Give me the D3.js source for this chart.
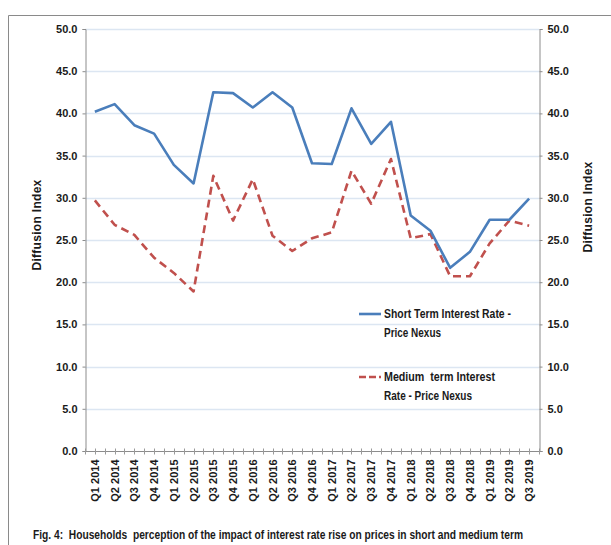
<!DOCTYPE html>
<html><head><meta charset="utf-8">
<script src="https://cdn.jsdelivr.net/npm/d3@7"></script>
<style>
html,body{margin:0;padding:0;background:#fff;}
svg text{font-family:"Liberation Sans Narrow","Arial Narrow","Liberation Sans",Arial,sans-serif;font-weight:bold;fill:#1a1a1a;}
</style></head>
<body><svg id="c" width="611" height="545"></svg>
<script>
const quarters = ["Q1 2014","Q2 2014","Q3 2014","Q4 2014","Q1 2015","Q2 2015","Q3 2015","Q4 2015","Q1 2016","Q2 2016","Q3 2016","Q4 2016","Q1 2017","Q2 2017","Q3 2017","Q4 2017","Q1 2018","Q2 2018","Q3 2018","Q4 2018","Q1 2019","Q2 2019","Q3 2019"];
const shortTerm = [40.2,41.1,38.6,37.6,33.9,31.7,42.5,42.4,40.7,42.5,40.7,34.1,34.0,40.6,36.4,39.0,27.9,26.1,21.7,23.6,27.4,27.4,29.9];
const mediumTerm = [29.7,26.8,25.6,22.9,21.1,18.9,32.6,27.3,32.2,25.5,23.7,25.2,25.9,33.2,29.3,34.6,25.2,25.7,20.7,20.7,24.6,27.3,26.7];
const yTicks = [0,5,10,15,20,25,30,35,40,45,50];
const seriesNames = ["Short Term Interest Rate -|Price Nexus","Medium  term Interest|Rate - Price Nexus"];
const caption = "Fig. 4:  Households  perception of the impact of interest rate rise on prices in short and medium term";

const svg = d3.select("#c");
const L = 85, R = 539, T = 29, B = 451;

// frame
svg.append("path").attr("d","M8.5,546 L8.5,15.5 L612,15.5").attr("fill","none").attr("stroke","#8a8a8a").attr("stroke-width",1);

const x = d3.scaleBand().domain(quarters).range([L,R]).paddingInner(0).paddingOuter(0);
const y = d3.scaleLinear().domain([0,50]).range([B,T]);

// gridlines
svg.append("g").selectAll("line").data(yTicks.filter(d=>d>0)).join("line")
  .attr("x1",L).attr("x2",R).attr("y1",d=>Math.round(y(d))+0.5).attr("y2",d=>Math.round(y(d))+0.5)
  .attr("stroke","#dce6f2").attr("stroke-width",1.5);

// axes
const yl = svg.append("g").attr("transform",`translate(${L+0.5},0)`)
  .call(d3.axisLeft(y).tickValues(yTicks).tickFormat(d3.format(".1f")).tickSize(3).tickPadding(5));
const yr = svg.append("g").attr("transform",`translate(${R+0.5},0)`)
  .call(d3.axisRight(y).tickValues(yTicks).tickFormat(d3.format(".1f")).tickSize(3).tickPadding(5));
[yl,yr].forEach(g=>{
  g.select(".domain").attr("stroke","#8c8c8c");
  g.selectAll(".tick line").attr("stroke","#8c8c8c");
  g.selectAll(".tick text").attr("font-size",11).style("font-family","'Liberation Sans Narrow','Arial Narrow',sans-serif").style("font-weight","bold").attr("fill","#1a1a1a");
});

// x axis
const xa = svg.append("g").attr("transform",`translate(0,${B+0.5})`);
xa.append("line").attr("x1",L).attr("x2",R).attr("stroke","#8c8c8c");
const tickPos = [];
quarters.forEach((q,i)=>{ tickPos.push(x(q)); tickPos.push(x(q)+x.bandwidth()/2); });
tickPos.push(R);
xa.selectAll("line.tk").data(tickPos).join("line").attr("class","tk")
  .attr("x1",d=>Math.round(d)+0.5).attr("x2",d=>Math.round(d)+0.5).attr("y1",-3).attr("y2",3).attr("stroke","#9a9a9a");
xa.selectAll("text").data(quarters).join("text")
  .attr("transform",d=>`translate(${x(d)+x.bandwidth()/2+4},8) rotate(-90)`)
  .attr("text-anchor","end").attr("font-size",11).text(d=>d);

// lines
const line = d3.line().x((d,i)=>x(quarters[i])+x.bandwidth()/2).y(d=>y(d));
svg.append("path").datum(mediumTerm).attr("d",line).attr("fill","none")
  .attr("stroke","#c0504d").attr("stroke-width",2.6).attr("stroke-dasharray","8,5").attr("stroke-linejoin","round");
svg.append("path").datum(shortTerm).attr("d",line).attr("fill","none")
  .attr("stroke","#4a7ebb").attr("stroke-width",2.6).attr("stroke-linejoin","round");

// axis titles
svg.append("text").attr("transform","translate(41,225) rotate(-90)").attr("text-anchor","middle").attr("font-size",12)
  .style("font-family","'Liberation Sans','Arial',sans-serif").style("letter-spacing","0.3px").text("Diffusion Index");
svg.append("text").attr("transform","translate(592,207) rotate(-90)").attr("text-anchor","middle").attr("font-size",12)
  .style("font-family","'Liberation Sans','Arial',sans-serif").style("letter-spacing","0.3px").text("Diffusion Index");

// legend
const leg = [{y:314,color:"#4a7ebb",dash:null,w:[127,57]},{y:377,color:"#c0504d",dash:"7,3",w:[111,88]}];
leg.forEach((l,i)=>{
  svg.append("line").attr("x1",359).attr("x2",381).attr("y1",l.y).attr("y2",l.y)
    .attr("stroke",l.color).attr("stroke-width",2.6).attr("stroke-dasharray",l.dash);
  const parts = seriesNames[i].split("|");
  parts.forEach((p,j)=>{
    svg.append("text").attr("x",384).attr("y",l.y+4+j*19).attr("font-size",12.5)
      .style("white-space","pre").attr("textLength",l.w[j]).attr("lengthAdjust","spacingAndGlyphs").text(p);
  });
});

// caption
svg.append("text").attr("x",33).attr("y",539).attr("font-size",12).style("white-space","pre")
  .attr("textLength",490).attr("lengthAdjust","spacingAndGlyphs").text(caption);
</script></body></html>
